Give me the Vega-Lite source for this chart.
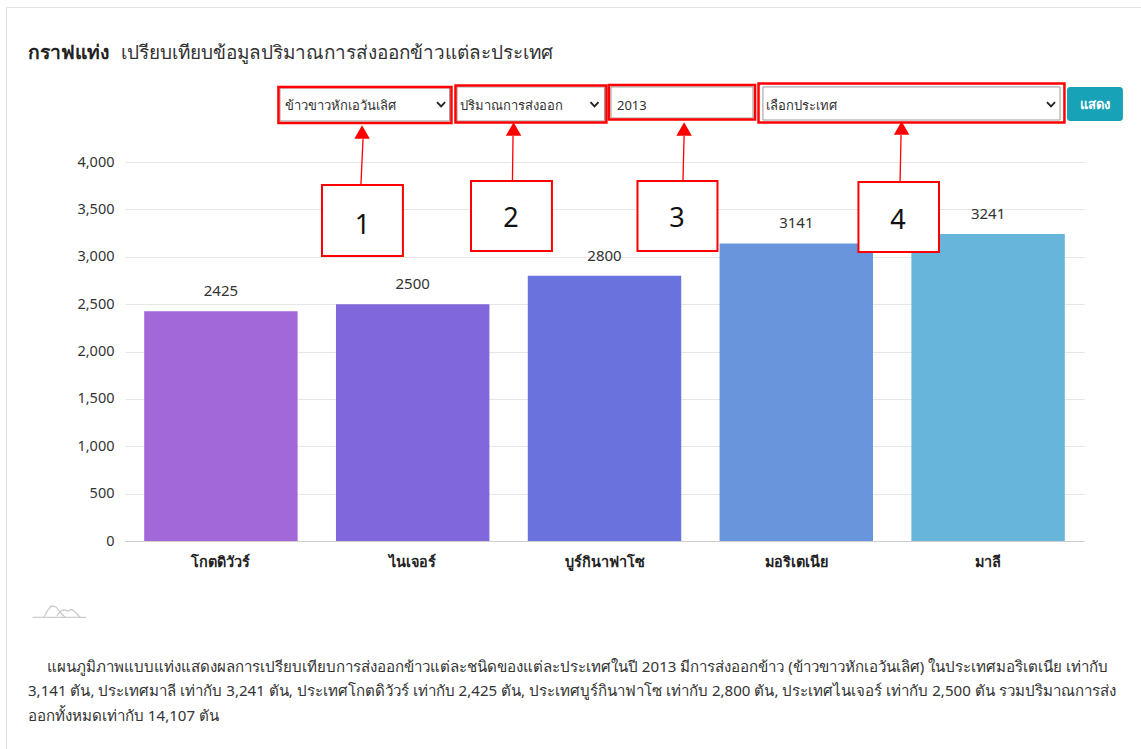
{
"$schema":"https://vega.github.io/schema/vega-lite/v6.json",
"width":959,"height":379,
"autosize":{"type":"none"},
"padding":{"left":125,"top":162,"right":57,"bottom":208},
"background":"white",
"config":{"view":{"stroke":null},"font":"Noto Sans"},
"datasets":{
"card":[{"u":-0.618,"u2":5.344,"v":5630,"v2":-2311}],
"selects":[
{"u":0.808,"u2":1.692,"v":4781,"v2":4433},
{"u":1.731,"u2":2.500,"v":4792,"v2":4433},
{"u":2.534,"u2":3.274,"v":4792,"v2":4464},
{"u":3.326,"u2":4.875,"v":4792,"v2":4443}],
"redboxes":[
{"u":0.800,"u2":1.702,"v":4792,"v2":4412},
{"u":1.723,"u2":2.510,"v":4807,"v2":4417},
{"u":2.523,"u2":3.285,"v":4813,"v2":4449},
{"u":3.303,"u2":4.898,"v":4828,"v2":4417}],
"numboxes":[
{"u":1.027,"u2":1.449,"v":3757,"v2":3008},
{"u":1.804,"u2":2.226,"v":3799,"v2":3061},
{"u":2.672,"u2":3.089,"v":3799,"v2":3061},
{"u":3.824,"u2":4.244,"v":3789,"v2":3050}],
"numbers":[
{"u":1.238,"v":3325,"t":"1"},
{"u":2.013,"v":3398,"t":"2"},
{"u":2.878,"v":3398,"t":"3"},
{"u":4.030,"v":3377,"t":"4"}],
"shafts":[
{"u":1.230,"u2":1.241,"v":3757,"v2":4243},
{"u":2.020,"u2":2.023,"v":3799,"v2":4274},
{"u":2.909,"u2":2.915,"v":3799,"v2":4274},
{"u":4.041,"u2":4.046,"v":3789,"v2":4285}],
"heads":[
{"u":1.236,"v":4317},
{"u":2.026,"v":4348},
{"u":2.915,"v":4348},
{"u":4.049,"v":4359}],
"selectLabels":[
{"u":0.834,"v":4592,"t":"ข้าวขาวหักเอวันเลิศ"},
{"u":1.747,"v":4592,"t":"ปริมาณการส่งออก"},
{"u":2.565,"v":4592,"t":"2013"},
{"u":3.342,"v":4592,"t":"เลือกประเทศ"}],
"chevrons":[
{"s":"a","o":1,"u":1.627,"v":4633},{"s":"a","o":2,"u":1.648,"v":4586},{"s":"a","o":3,"u":1.669,"v":4633},
{"s":"b","o":1,"u":2.427,"v":4633},{"s":"b","o":2,"u":2.448,"v":4586},{"s":"b","o":3,"u":2.469,"v":4633},
{"s":"c","o":1,"u":4.807,"v":4633},{"s":"c","o":2,"u":4.828,"v":4586},{"s":"c","o":3,"u":4.849,"v":4633}],
"logo":[
{"s":"base","o":1,"u":-0.482,"v":-807},{"s":"base","o":2,"u":-0.203,"v":-807},
{"s":"h1","o":1,"u":-0.422,"v":-802},{"s":"h1","o":2,"u":-0.401,"v":-728},{"s":"h1","o":3,"u":-0.381,"v":-686},{"s":"h1","o":4,"u":-0.360,"v":-697},{"s":"h1","o":5,"u":-0.339,"v":-749},{"s":"h1","o":6,"u":-0.313,"v":-802},
{"s":"h2","o":1,"u":-0.355,"v":-791},{"s":"h2","o":2,"u":-0.334,"v":-739},{"s":"h2","o":3,"u":-0.313,"v":-728},{"s":"h2","o":4,"u":-0.297,"v":-739},{"s":"h2","o":5,"u":-0.282,"v":-723},{"s":"h2","o":6,"u":-0.261,"v":-749},{"s":"h2","o":7,"u":-0.235,"v":-802}],
"paragraph":[
{"u":-0.407,"v":-1330,"t":"แผนภูมิภาพแบบแท่งแสดงผลการเปรียบเทียบการส่งออกข้าวแต่ละชนิดของแต่ละประเทศในปี 2013 มีการส่งออกข้าว (ข้าวขาวหักเอวันเลิศ) ในประเทศมอริเตเนีย เท่ากับ"},
{"u":-0.506,"v":-1584,"t":"3,141 ตัน, ประเทศมาลี เท่ากับ 3,241 ตัน, ประเทศโกตดิวัวร์ เท่ากับ 2,425 ตัน, ประเทศบูร์กินาฟาโซ เท่ากับ 2,800 ตัน, ประเทศไนเจอร์ เท่ากับ 2,500 ตัน รวมปริมาณการส่ง"},
{"u":-0.506,"v":-1847,"t":"ออกทั้งหมดเท่ากับ 14,107 ตัน"}],
"heading":[{"u":-0.021,"v":5150,"t":"เปรียบเทียบข้อมูลปริมาณการส่งออกข้าวแต่ละประเทศ"}],
"headingBold":[{"u":-0.506,"v":5150,"t":"กราฟแท่ง"}],
"button":[{"u":4.911,"u2":5.203,"v":4792,"v2":4433}],
"buttonLabel":[{"u":5.057,"v":4602,"t":"แสดง"}]
},
"layer":[
{
"data":{"values":[
{"country":"โกตดิวัวร์","value":2425},
{"country":"ไนเจอร์","value":2500},
{"country":"บูร์กินาฟาโซ","value":2800},
{"country":"มอริเตเนีย","value":3141},
{"country":"มาลี","value":3241}]},
"encoding":{
"x":{"field":"country","type":"nominal","sort":null,"scale":{"paddingInner":0.2,"paddingOuter":0.1},
"axis":{"title":null,"labelAngle":0,"ticks":false,"domainColor":"#cfcfcf","labelFont":"Noto Sans","labelFontSize":14.4,"labelFontWeight":"bold","labelColor":"#222222","labelPadding":14,"grid":false}},
"y":{"field":"value","type":"quantitative","scale":{"domain":[0,4000],"nice":false},
"axis":{"title":null,"values":[0,500,1000,1500,2000,2500,3000,3500,4000],"format":",d","domain":false,"ticks":false,"grid":true,"gridColor":"#e6e6e6","gridWidth":1.2,"labelFont":"Noto Sans","labelFontSize":14.5,"labelColor":"#333333","labelPadding":11}}
},
"layer":[
{"mark":{"type":"bar"},"encoding":{"color":{"field":"country","type":"nominal","sort":null,"legend":null,"scale":{"domain":["โกตดิวัวร์","ไนเจอร์","บูร์กินาฟาโซ","มอริเตเนีย","มาลี"],"range":["#a268d9","#8167dc","#6a72dd","#6895dc","#68b5dc"]}}}},
{"mark":{"type":"text","dy":-20,"fontSize":15,"color":"#333333","font":"Noto Sans"},"encoding":{"text":{"field":"value","type":"quantitative","format":"d"}}}
]
},
{
"encoding":{
"x":{"field":"u","type":"quantitative","axis":null,"scale":{"domain":[0,5],"nice":false,"zero":false}},
"y":{"field":"v","type":"quantitative","axis":{"title":null,"values":[0,500,1000,1500,2000,2500,3000,3500,4000],"format":",d","domain":false,"ticks":false,"grid":true,"gridColor":"#e6e6e6","gridWidth":1.2,"labelFont":"Noto Sans","labelFontSize":14.5,"labelColor":"#333333","labelPadding":11}}
},
"layer":[
{"data":{"name":"card"},"mark":{"type":"rect","fill":null,"stroke":"#e2e2e2","strokeWidth":1},"encoding":{"x2":{"field":"u2"},"y2":{"field":"v2"}}},
{"data":{"name":"selects"},"mark":{"type":"rect","fill":"white","stroke":"#9a9a9a","strokeWidth":1},"encoding":{"x2":{"field":"u2"},"y2":{"field":"v2"}}},
{"data":{"name":"button"},"mark":{"type":"rect","fill":"#17a2b8","cornerRadius":3},"encoding":{"x2":{"field":"u2"},"y2":{"field":"v2"}}},
{"data":{"name":"buttonLabel"},"mark":{"type":"text","fontSize":13,"fontWeight":"bold","color":"white","font":"Noto Sans"},"encoding":{"text":{"field":"t"}}},
{"data":{"name":"selectLabels"},"mark":{"type":"text","align":"left","fontSize":13,"color":"#333333","font":"Noto Sans"},"encoding":{"text":{"field":"t"}}},
{"data":{"name":"chevrons"},"mark":{"type":"line","stroke":"#222222","strokeWidth":1.8},"encoding":{"detail":{"field":"s"},"order":{"field":"o"}}},
{"data":{"name":"redboxes"},"mark":{"type":"rect","fill":null,"stroke":"#ff0000","strokeWidth":2.5},"encoding":{"x2":{"field":"u2"},"y2":{"field":"v2"}}},
{"data":{"name":"shafts"},"mark":{"type":"rule","color":"#ff0000","strokeWidth":1.3},"encoding":{"x2":{"field":"u2"},"y2":{"field":"v2"}}},
{"data":{"name":"heads"},"mark":{"type":"point","shape":"triangle-up","size":240,"filled":true,"color":"#ff0000","opacity":1}},
{"data":{"name":"numboxes"},"mark":{"type":"rect","fill":"white","stroke":"#ff0000","strokeWidth":2},"encoding":{"x2":{"field":"u2"},"y2":{"field":"v2"}}},
{"data":{"name":"numbers"},"mark":{"type":"text","fontSize":27,"color":"#111111","font":"Noto Sans"},"encoding":{"text":{"field":"t"}}},
{"data":{"name":"logo"},"mark":{"type":"line","stroke":"#cccccc","strokeWidth":1.3,"interpolate":"monotone"},"encoding":{"detail":{"field":"s"},"order":{"field":"o"}}},
{"data":{"name":"headingBold"},"mark":{"type":"text","align":"left","fontSize":19.3,"fontWeight":"bold","color":"#222222","font":"Noto Sans"},"encoding":{"text":{"field":"t"}}},
{"data":{"name":"heading"},"mark":{"type":"text","align":"left","fontSize":18.95,"color":"#333333","font":"Noto Sans"},"encoding":{"text":{"field":"t"}}},
{"data":{"name":"paragraph"},"mark":{"type":"text","align":"left","fontSize":15.1,"color":"#333333","font":"Noto Sans"},"encoding":{"text":{"field":"t"}}}
]
}
],
"resolve":{"scale":{"x":"independent"},"axis":{"x":"independent"}}
}
